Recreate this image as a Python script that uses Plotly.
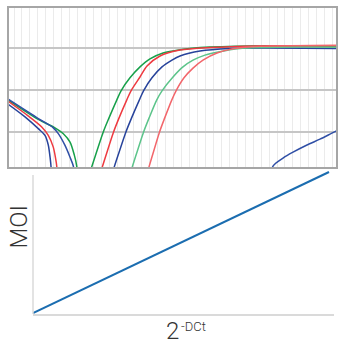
import plotly.graph_objects as go

# ---- Amplification curves (x = cycle, y = log10 dRn); None splits the two visible segments
green_x = [-0.8, 3.05, 5.14, 6.19, 7.03, 7.57, 7.87, 7.97, None,
           9.20, 9.75, 11.18, 11.91, 12.89, 13.43, 14.55, 15.81, 17.06, 18.70, 20.83, 23.34, 29.61, 40.40]
green_y = [-1.23, -1.70, -1.90, -2.04, -2.24, -2.55, -2.81, -3.14, None,
           -3.14, -2.83, -2.01, -1.67, -1.24, -1.02, -0.71, -0.45, -0.26, -0.12, -0.04, 0.01, 0.05, 0.04]

red_x = [-0.8, 1.38, 3.48, 4.30, 4.93, 5.23, 5.36, 5.43, None,
         10.54, 11.08, 12.47, 13.17, 14.14, 14.68, 15.81, 16.69, 18.32, 20.83, 24.59, 30.87, 40.40]
red_y = [-1.26, -1.56, -1.88, -2.08, -2.36, -2.64, -2.81, -3.14, None,
         -3.14, -2.83, -2.01, -1.67, -1.24, -1.02, -0.69, -0.43, -0.19, -0.05, 0.01, 0.05, 0.06]

blue_x = [-0.8, 1.38, 3.05, 3.89, 4.30, 4.55, 4.64, 4.71, None,
          12.03, 12.58, 14.02, 14.74, 15.72, 16.25, 17.31, 18.57, 19.82, 20.83, 23.34, 27.10, 32.12, 40.40]
blue_y = [-1.33, -1.64, -1.92, -2.08, -2.31, -2.64, -2.81, -3.14, None,
          -3.14, -2.83, -2.01, -1.67, -1.24, -1.02, -0.71, -0.45, -0.29, -0.19, -0.07, -0.01, 0.00, -0.01]

lgreen_x = [14.30, 14.84, 16.24, 16.94, 17.90, 18.57, 19.95, 21.20, 22.46, 23.96, 25.47, 28.36, 33.38, 40.40]
lgreen_y = [-3.14, -2.83, -2.01, -1.67, -1.24, -1.02, -0.69, -0.45, -0.29, -0.17, -0.10, -0.01, 0.02, 0.02]

lred_x = [16.44, 16.94, 18.24, 18.90, 19.79, 20.33, 21.33, 22.46, 23.71, 25.47, 27.48, 30.87, 40.40]
lred_y = [-3.14, -2.83, -2.01, -1.67, -1.24, -1.02, -0.71, -0.48, -0.29, -0.12, -0.02, 0.04, 0.06]

late_x = [-0.8, 3.05, 4.93, 5.56, 6.40, 7.03, 7.44, 7.59, None,
          32.31, 32.50, 33.75, 35.01, 36.76, 38.39, 40.40, 40.9]
late_y = [-1.21, -1.68, -1.90, -2.04, -2.32, -2.60, -2.81, -3.14, None,
          -3.14, -2.81, -2.62, -2.48, -2.31, -2.17, -1.98, -1.94]

grid_levels = [-2, -1, 0]

# ---- Standard curve
rel_expr = [0.0, 1.0]
moi = [0.0, 1.0]

W = 345.0
fig = go.Figure()

curves = [
    (green_x, green_y, "#17a04a"),
    (red_x, red_y, "#ee3a40"),
    (blue_x, blue_y, "#27439b"),
    (late_x, late_y, "#2f4fa6"),
    (lgreen_x, lgreen_y, "#5cc48a"),
    (lred_x, lred_y, "#f2666b"),
]
for cx, cy, col in curves:
    fig.add_trace(go.Scatter(x=cx, y=cy, mode="lines", connectgaps=False,
                             line=dict(color=col, width=1.5, shape="spline", smoothing=0.8),
                             xaxis="x", yaxis="y", showlegend=False, hoverinfo="skip"))

fig.add_trace(go.Scatter(x=rel_expr, y=moi, mode="lines",
                         line=dict(color="#1b6db0", width=2),
                         xaxis="x2", yaxis="y2", showlegend=False, hoverinfo="skip"))

fig.update_layout(
    width=345, height=345,
    margin=dict(l=0, r=0, t=0, b=0),
    paper_bgcolor="white", plot_bgcolor="white",
    xaxis=dict(domain=[9 / W, 336 / W], range=[-0.627, 40.40], tick0=0, dtick=1,
               showgrid=True, gridcolor="#ebebeb", gridwidth=1, showticklabels=False,
               ticks="", zeroline=False, showline=True, mirror=True,
               linecolor="#a6a6a6", linewidth=2),
    yaxis=dict(domain=[1 - 167 / W, 1 - 8 / W], range=[-2.833, 0.952], tickvals=grid_levels,
               showgrid=True, gridcolor="#c6c6c6", gridwidth=1.5, showticklabels=False,
               ticks="", zeroline=False, showline=True, mirror=True,
               linecolor="#a6a6a6", linewidth=2),
    xaxis2=dict(domain=[33 / W, 334 / W], range=[0, 1.0169], anchor="y2",
                showgrid=False, showticklabels=False, ticks="", zeroline=False,
                showline=True, linecolor="#dadada", linewidth=1.5),
    yaxis2=dict(domain=[1 - 314 / W, 1 - 171 / W], range=[-0.0071, 1.0071], anchor="x2",
                showgrid=False, showticklabels=False, ticks="", zeroline=False,
                showline=False),
    shapes=[dict(type="line", xref="paper", yref="paper",
                 x0=33 / W, x1=33 / W, y0=1 - 314 / W, y1=1 - 175 / W,
                 line=dict(color="#dadada", width=1.5))],
    annotations=[
        dict(text="MOI", xref="paper", yref="paper", x=18.5 / W, y=1 - 227 / W,
             textangle=-90, showarrow=False, xanchor="center", yanchor="middle",
             font=dict(family="Roboto", size=24, color="#333333", weight=300)),
        dict(text="2", xref="paper", yref="paper", x=172.5 / W, y=1 - 331 / W,
             showarrow=False, xanchor="center", yanchor="middle",
             font=dict(family="Roboto", size=24, color="#333333", weight=300)),
        dict(text="-DCt", xref="paper", yref="paper", x=179 / W, y=1 - 326 / W,
             showarrow=False, xanchor="left", yanchor="middle",
             font=dict(family="Roboto", size=13, color="#333333", weight=300)),
    ],
)

fig.write_html("out.html")
